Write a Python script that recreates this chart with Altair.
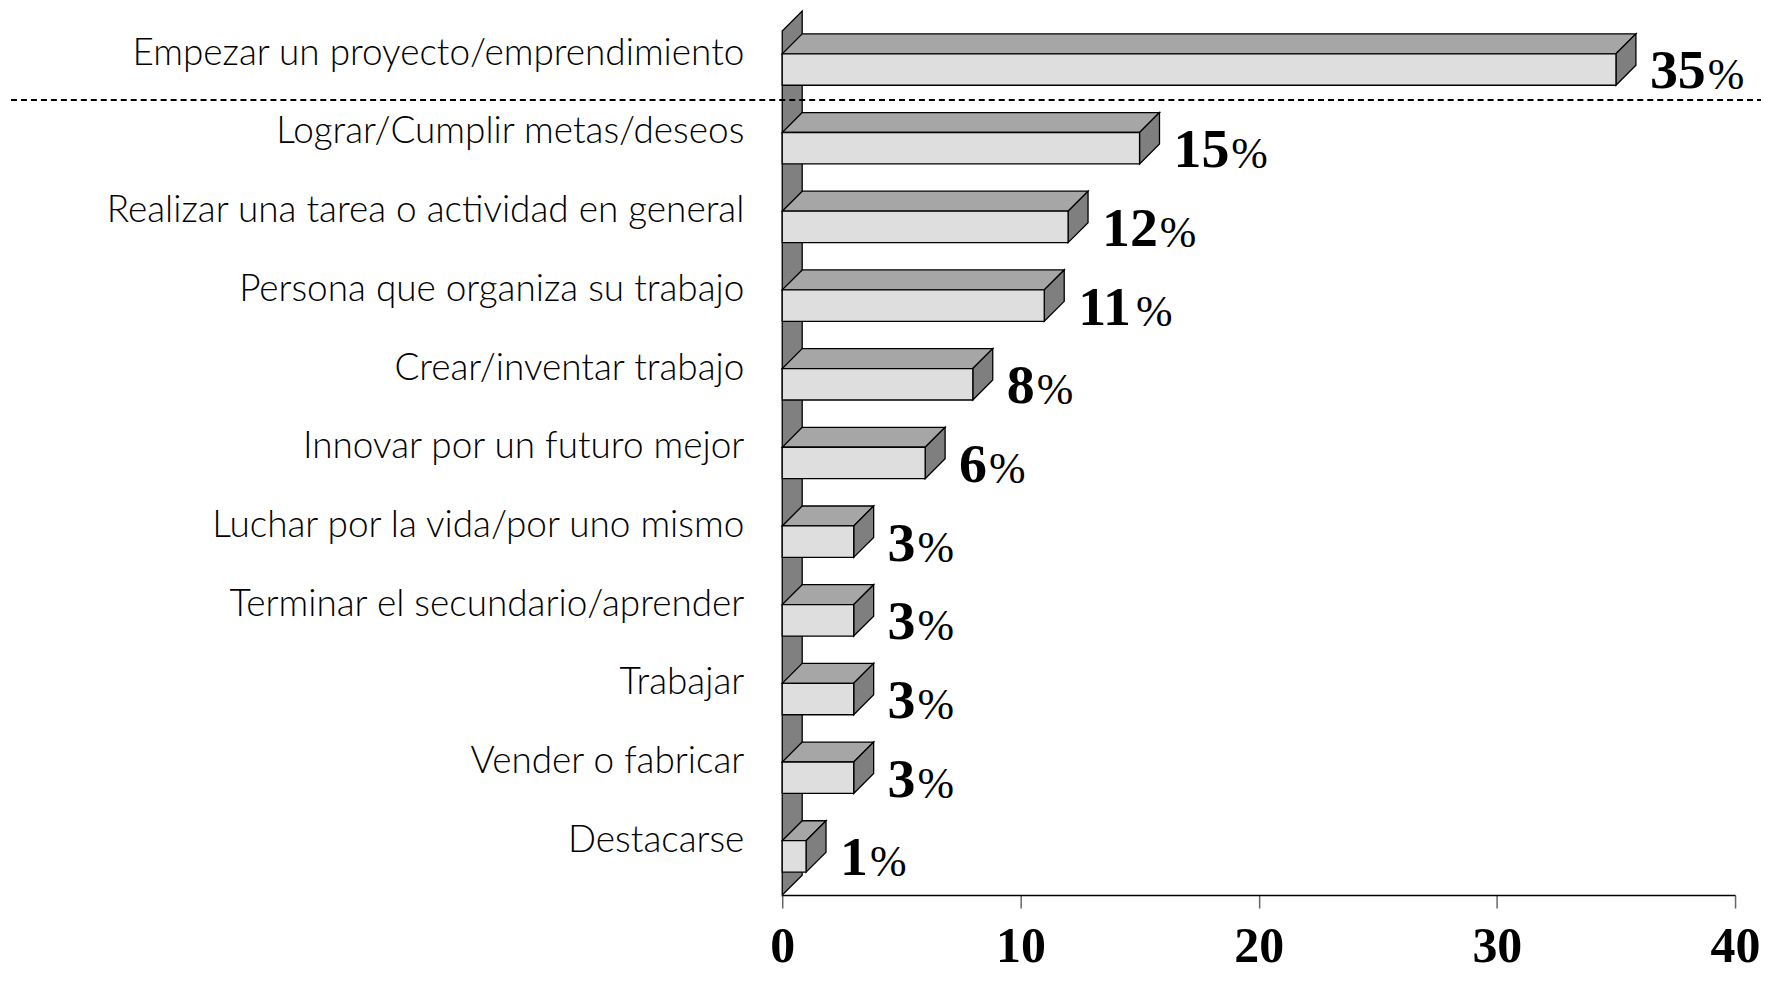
import altair as alt
import pandas as pd

# ---- data ----
categories = [
    "Empezar un proyecto/emprendimiento",
    "Lograr/Cumplir metas/deseos",
    "Realizar una tarea o actividad en general",
    "Persona que organiza su trabajo",
    "Crear/inventar trabajo",
    "Innovar por un futuro mejor",
    "Luchar por la vida/por uno mismo",
    "Terminar el secundario/aprender",
    "Trabajar",
    "Vender o fabricar",
    "Destacarse",
]
values = [35, 15, 12, 11, 8, 6, 3, 3, 3, 3, 1]
x_ticks = [0, 10, 20, 30, 40]

# ---- layout constants (pixels) ----
PLOT_W = 955
PLOT_H = 886
X_MAX = 40
PX_PER_UNIT = PLOT_W / X_MAX
SLOT = 78.87          # vertical distance between bars
BASE = 23             # gap between axis and bottom bar
FRONT_H = 31.5        # height of bar front face
DEPTH_PX = 20         # 3D depth (both directions)
DX = DEPTH_PX / PX_PER_UNIT
DY = DEPTH_PX
WALL_TOP = 866
DASH_Y = 797
DIGIT_FS = 56
DIGIT_W = DIGIT_FS * 0.5
LABEL_DX = 34
PAD_L = 776
PAD_R = 26

n = len(categories)
rows, top_rows, side_rows = [], [], []
for i, (c, v) in enumerate(zip(categories, values)):
    k = n - 1 - i
    y0 = BASE + k * SLOT
    y1 = y0 + FRONT_H
    rows.append(dict(cat=c, v=v, y0=y0, y1=y1, ymid=(y0 + y1) / 2 - 2,
                     ylab=y1, txt=str(v), nd=len(str(v))))
    top_rows.append(dict(cat=c, ty=y1, tx=0.0, tx2=v))
    top_rows.append(dict(cat=c, ty=y1 + DY, tx=DX, tx2=v + DX))
    side_rows.append(dict(cat=c, sx=v, sy=y0, sy2=y1))
    side_rows.append(dict(cat=c, sx=v + DX, sy=y0 + DY, sy2=y1 + DY))

df = pd.DataFrame(rows)
df_top = pd.DataFrame(top_rows)
df_side = pd.DataFrame(side_rows)
df_wall = pd.DataFrame(dict(wx=[0.0, DX], wy=[0.0, DY], wy2=[WALL_TOP, WALL_TOP + DY]))

xscale = alt.Scale(domain=[0, X_MAX], nice=False, zero=False)
yscale = alt.Scale(domain=[0, PLOT_H], nice=False, zero=False)

STROKE = "#000000"
SW = 1.3

wall = alt.Chart(df_wall).mark_area(
    orient="vertical", color="#808080", stroke=STROKE, strokeWidth=SW, opacity=1
).encode(
    x=alt.X("wx:Q", scale=xscale, stack=None,
            axis=alt.Axis(values=x_ticks, title=None, grid=False, labelFlush=False,
                          labelFont="Liberation Serif", labelFontWeight="bold",
                          labelFontSize=50, labelColor="#000000", labelPadding=14,
                          tickSize=13, tickColor="#666666", tickWidth=1.5,
                          domainColor="#000000", domainWidth=1.5)),
    y=alt.Y("wy:Q", scale=yscale, axis=None),
    y2="wy2:Q",
)

top = alt.Chart(df_top).mark_area(
    orient="horizontal", color="#a6a6a6", stroke=STROKE, strokeWidth=SW, opacity=1
).encode(
    y=alt.Y("ty:Q", scale=yscale, stack=None, axis=None),
    x=alt.X("tx:Q", scale=xscale),
    x2="tx2:Q",
    detail="cat:N",
)

side = alt.Chart(df_side).mark_area(
    orient="vertical", color="#7f7f7f", stroke=STROKE, strokeWidth=SW, opacity=1
).encode(
    x=alt.X("sx:Q", scale=xscale),
    y=alt.Y("sy:Q", scale=yscale, stack=None, axis=None),
    y2="sy2:Q",
    detail="cat:N",
)

front = alt.Chart(df).mark_rect(
    color="#dedede", stroke=STROKE, strokeWidth=SW
).encode(
    x=alt.X("x0:Q", scale=xscale),
    x2="v:Q",
    y=alt.Y("y0:Q", scale=yscale, axis=None),
    y2="y1:Q",
).transform_calculate(x0="0")

dash = alt.Chart(df).mark_rule(
    color="#000000", strokeWidth=2, strokeDash=[6, 4]
).encode(
    y=alt.datum(DASH_Y),
    x=alt.value(-(PAD_L - 3)),
    x2=alt.value(PLOT_W + PAD_R),
).transform_filter("datum.v == 35")

cat_labels = alt.Chart(df).mark_text(
    align="right", baseline="middle", font="Lato", fontWeight=300,
    fontSize=37, color="#000000"
).encode(
    x=alt.value(-38),
    y=alt.Y("ylab:Q", scale=yscale),
    text="cat:N",
)

digits = alt.Chart(df).mark_text(
    align="left", baseline="middle", font="Liberation Serif", fontWeight="bold",
    fontSize=DIGIT_FS, color="#000000", dx=LABEL_DX
).encode(
    x=alt.X("v:Q", scale=xscale),
    y=alt.Y("ymid:Q", scale=yscale),
    text="txt:N",
)

pct = alt.Chart(df).mark_text(
    align="left", baseline="middle", font="Liberation Serif",
    fontSize=44, color="#000000", dx=LABEL_DX + 2, dy=5
).encode(
    x=alt.X("px:Q", scale=xscale),
    y=alt.Y("ymid:Q", scale=yscale),
    text=alt.value("%"),
).transform_calculate(px=f"datum.v + datum.nd * {DIGIT_W / PX_PER_UNIT}")

chart = alt.layer(wall, top, side, front, dash, cat_labels, digits, pct).properties(
    width=PLOT_W, height=PLOT_H,
    autosize=alt.AutoSizeParams(type="none"),
    padding={"left": PAD_L, "top": 2, "right": PAD_R, "bottom": 80},
).configure(background="#ffffff").configure_view(stroke=None)

chart.save("out.html", embed_options={"renderer": "svg", "actions": False})
